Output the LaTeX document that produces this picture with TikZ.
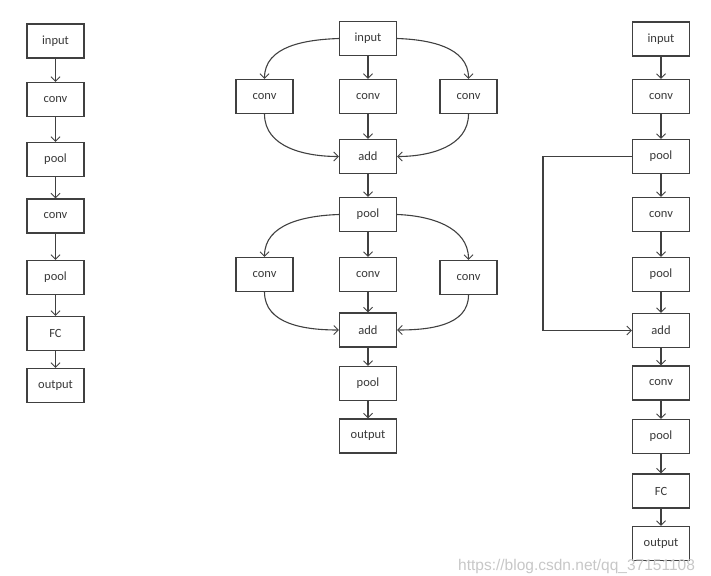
\documentclass[tikz,border=0pt]{standalone}
\usepackage{fontspec}
\setmainfont{Carlito}
\newfontfamily\wmfont{Liberation Sans}
\usetikzlibrary{arrows.meta}
\definecolor{ln}{HTML}{404040}
\tikzset{
  blk/.style={draw=ln, line width=1.1pt, minimum width=57pt, minimum height=34pt, inner sep=0pt,
    font=\fontsize{12.5}{14}\selectfont, text=black!78, fill=white},
  arr/.style={draw=ln, line width=1.1pt, -{Straight Barb[length=4.5pt,width=9pt,line width=1pt]}},
}
\begin{document}
\begin{tikzpicture}[x=1pt,y=-1pt]
\useasboundingbox (0,0) rectangle (711,575);
% left column
\node[blk] (l1) at (55.5,41) {input};
\node[blk] (l2) at (55.5,99.5) {conv};
\node[blk] (l3) at (55.5,159.5) {pool};
\node[blk] (l4) at (55.5,216) {conv};
\node[blk] (l5) at (55.5,277.5) {pool};
\node[blk] (l6) at (55.5,333.5) {FC};
\node[blk] (l7) at (55.5,385.5) {output};
\foreach \a/\b in {l1/l2,l2/l3,l3/l4,l4/l5,l5/l6,l6/l7}
  \draw[arr] (\a) -- (\b);
% middle column
\node[blk] (m1) at (368,38.5) {input};
\node[blk] (ca1) at (264.5,96.5) {conv};
\node[blk] (cb1) at (368,96.5) {conv};
\node[blk] (cc1) at (468.5,96.5) {conv};
\node[blk] (a1) at (368,156.5) {add};
\node[blk] (p1) at (368,214.5) {pool};
\node[blk] (ca2) at (264.5,274.5) {conv};
\node[blk] (cb2) at (368,274.5) {conv};
\node[blk] (cc2) at (468.5,277.5) {conv};
\node[blk] (a2) at (368,330) {add};
\node[blk] (p2) at (368,383.5) {pool};
\node[blk] (mo) at (368,436) {output};
\draw[arr] (m1) -- (cb1);
\draw[arr] (cb1) -- (a1);
\draw[arr] (a1) -- (p1);
\draw[arr] (p1) -- (cb2);
\draw[arr] (cb2) -- (a2);
\draw[arr] (a2) -- (p2);
\draw[arr] (p2) -- (mo);
\draw[arr] (m1.west) to[out=182,in=90] (ca1.north);
\draw[arr] (m1.east) to[out=-2,in=90] (cc1.north);
\draw[arr] (ca1.south) to[out=-90,in=180] (a1.west);
\draw[arr] (cc1.south) to[out=-90,in=0] (a1.east);
\draw[arr] (p1.west) to[out=182,in=90] (ca2.north);
\draw[arr] (p1.east) to[out=-2,in=90] (cc2.north);
\draw[arr] (ca2.south) to[out=-90,in=180] (a2.west);
\draw[arr] (cc2.south) to[out=-90,in=0] (a2.east);
% right column
\node[blk] (r1) at (661,39) {input};
\node[blk] (r2) at (661,96.5) {conv};
\node[blk] (r3) at (661,156.5) {pool};
\node[blk] (r4) at (661,214.5) {conv};
\node[blk] (r5) at (661,274.5) {pool};
\node[blk] (r6) at (661,330.5) {add};
\node[blk] (r7) at (661,383) {conv};
\node[blk] (r8) at (661,436.5) {pool};
\node[blk] (r9) at (661,491) {FC};
\node[blk] (r10) at (661,543.5) {output};
\foreach \a/\b in {r1/r2,r2/r3,r3/r4,r4/r5,r5/r6,r6/r7,r7/r8,r8/r9,r9/r10}
  \draw[arr] (\a) -- (\b);
\coordinate (sk) at (543,0);
\draw[arr] (r3.west) -| (sk |- r6.west) -- (r6.west);
% watermark
\node[anchor=base west, inner sep=0pt, text=black!22, font=\wmfont\fontsize{15.5}{17}\selectfont] (wm) at (458,570.5) {https://blog.csdn.net/qq\_37151108};
\end{tikzpicture}
\end{document}
